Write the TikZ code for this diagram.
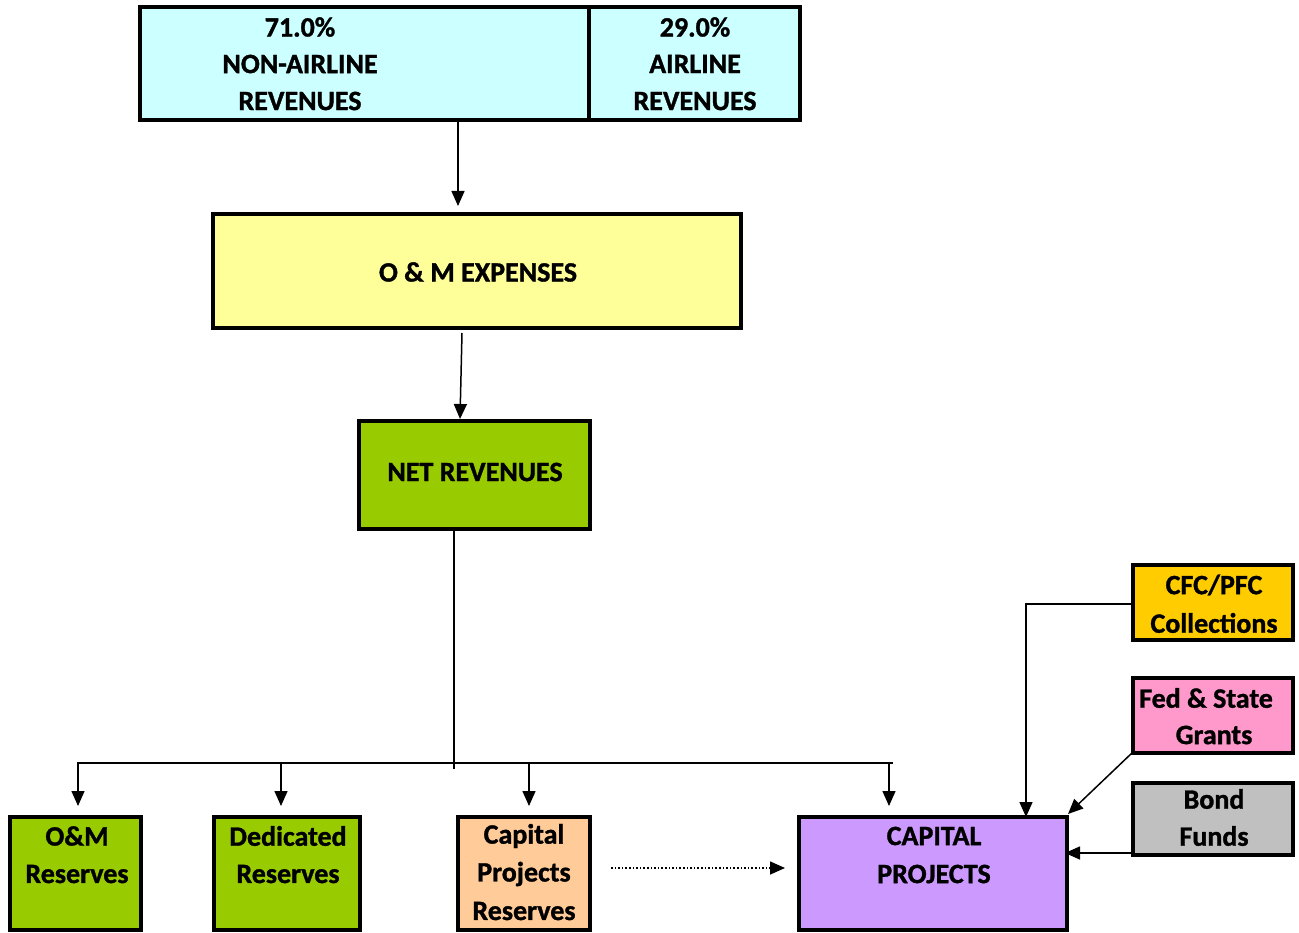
\documentclass[tikz,border=0pt]{standalone}
\usepackage{fontspec}
\setmainfont{Carlito}[BoldFeatures={FakeBold=1.2}]
\usetikzlibrary{arrows.meta}
\definecolor{cyanbox}{HTML}{CCFFFF}
\definecolor{yellowbox}{HTML}{FFFF99}
\definecolor{greenbox}{HTML}{99CC00}
\definecolor{peachbox}{HTML}{FFCC99}
\definecolor{purplebox}{HTML}{CC99FF}
\definecolor{goldbox}{HTML}{FFCC00}
\definecolor{pinkbox}{HTML}{FF99CC}
\definecolor{graybox}{HTML}{C0C0C0}
\tikzset{
  box/.style={draw=black, line width=3.2pt, inner sep=0pt, outer sep=0pt},
  txt/.style={font=\fontsize{28}{37}\selectfont\bfseries, align=center, inner sep=0pt},
  conn/.style={line width=1.5pt, -{Triangle[length=15pt,width=13pt]}},
  plain/.style={line width=1.5pt},
}
\begin{document}
\begin{tikzpicture}[x=1pt,y=-1pt]
\useasboundingbox (0,0) rectangle (1299,933);
% boxes
\node[box, fill=cyanbox, minimum width=449pt, minimum height=113pt] (nonair) at (364.5,63.5) {};
\node[box, fill=cyanbox, minimum width=211pt, minimum height=113pt] (air) at (694.5,63.5) {};
\node[box, fill=yellowbox, minimum width=528pt, minimum height=114pt] (om) at (477,271) {};
\node[box, fill=greenbox, minimum width=231pt, minimum height=108pt] (net) at (474.5,475) {};
\node[box, fill=greenbox, minimum width=131pt, minimum height=113pt] (omres) at (75.5,873.5) {};
\node[box, fill=greenbox, minimum width=146pt, minimum height=113pt] (dedres) at (287,873.5) {};
\node[box, fill=peachbox, minimum width=132pt, minimum height=113pt] (cpres) at (524,873.5) {};
\node[box, fill=purplebox, minimum width=268pt, minimum height=113pt] (cp) at (933,873.5) {};
\node[box, fill=goldbox, minimum width=160pt, minimum height=75pt] (cfc) at (1213,602.5) {};
\node[box, fill=pinkbox, minimum width=160pt, minimum height=75pt] (fed) at (1213,715.5) {};
\node[box, fill=graybox, minimum width=160pt, minimum height=72pt] (bond) at (1213,819) {};
% texts
\node[txt] (t1a) at (300,27) {71.0\%};
\node[txt] (t1b) at (300,64) {NON-AIRLINE};
\node[txt] (t1c) at (300,101) {REVENUES};
\node[txt] (t2a) at (695,27) {29.0\%};
\node[txt] (t2b) at (695,64) {AIRLINE};
\node[txt] (t2c) at (695,101) {REVENUES};
\node[txt] (t3) at (478,272) {O \& M EXPENSES};
\node[txt] (t4) at (475,472) {NET REVENUES};
\node[txt] (t5a) at (77,836) {O\&M};
\node[txt] (t5b) at (77,874) {Reserves};
\node[txt] (t6a) at (288,836) {Dedicated};
\node[txt] (t6b) at (288,874) {Reserves};
\node[txt] (t7a) at (524,836) {Capital};
\node[txt] (t7b) at (524,874) {Projects};
\node[txt] (t7c) at (524,911) {Reserves};
\node[txt] (t8a) at (934,836) {CAPITAL};
\node[txt] (t8b) at (934,874) {PROJECTS};
\node[txt] (t9a) at (1214,585) {CFC/PFC};
\node[txt] (t9b) at (1214,623) {Collections};
\node[txt] (t10a) at (1206,698) {Fed \& State};
\node[txt] (t10b) at (1214,735) {Grants};
\node[txt] (t11a) at (1214,799) {Bond};
\node[txt] (t11b) at (1214,836) {Funds};
% coordinates
\coordinate (a1s) at (458,121);
\coordinate (a1e) at (458,206);
\coordinate (a2s) at (462,333);
\coordinate (a2e) at (460,419);
\coordinate (nb) at (454,529);
\coordinate (ne) at (454,769);
\coordinate (hl) at (78,763);
\coordinate (hr) at (893,763);
\coordinate (d1) at (78,806);
\coordinate (d2s) at (281,763);
\coordinate (d2) at (281,806);
\coordinate (d3s) at (529,763);
\coordinate (d3) at (529,806);
\coordinate (d4s) at (889,763);
\coordinate (d4) at (889,806);
\coordinate (dots) at (611,868);
\coordinate (dote) at (785,868);
\coordinate (cfcc) at (1026,604);
\coordinate (cfce) at (1026,817);
\coordinate (feds) at (1133,752);
\coordinate (fede) at (1068,814);
\coordinate (bonde) at (1065,853);
% connectors
\draw[conn] (nonair.south -| a1s) -- (a1e);
\draw[conn] (a2s) -- (a2e);
\draw[plain] (net.south -| nb) -- (ne);
\draw[conn] (hr) -- (hl) -- (d1);
\draw[conn] (d2s) -- (d2);
\draw[conn] (d3s) -- (d3);
\draw[conn] (d4s) -- (d4);
\draw[line width=1.6pt, dotted, -{Triangle[length=15pt,width=13pt]}] (dots) -- (dote);
\draw[conn] (cfc.west |- cfcc) -- (cfcc) -- (cfce);
\draw[conn] (feds) -- (fede);
\draw[conn] (bond.west |- bonde) -- (bonde);
\end{tikzpicture}
\end{document}
